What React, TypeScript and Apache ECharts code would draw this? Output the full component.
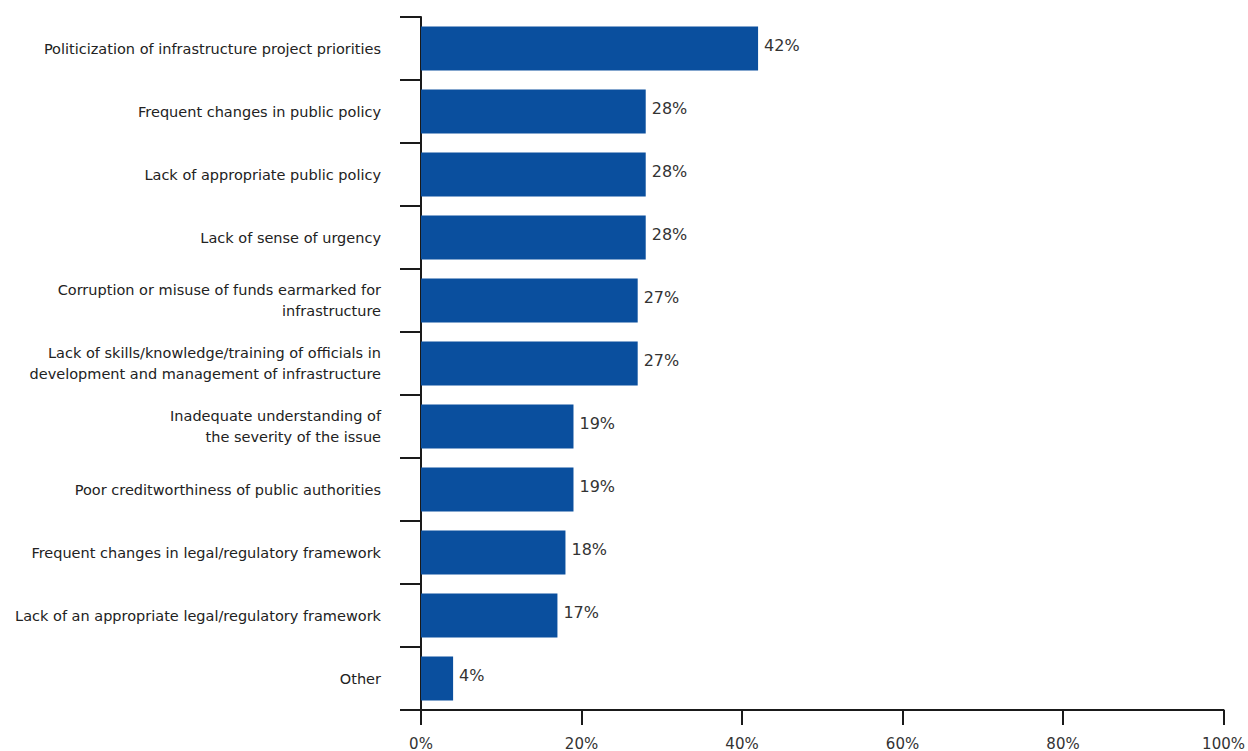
import React, { useEffect, useRef } from "react";
import * as echarts from "echarts";

const categories: string[] = [
  "Politicization of infrastructure project priorities",
  "Frequent changes in public policy",
  "Lack of appropriate public policy",
  "Lack of sense of urgency",
  "Corruption or misuse of funds earmarked for\ninfrastructure",
  "Lack of skills/knowledge/training of officials in\ndevelopment and management of infrastructure",
  "Inadequate understanding of\nthe severity of the issue",
  "Poor creditworthiness of public authorities",
  "Frequent changes in legal/regulatory framework",
  "Lack of an appropriate legal/regulatory framework",
  "Other",
];

const values: number[] = [42, 28, 28, 28, 27, 27, 19, 19, 18, 17, 4];

const xTicks: number[] = [0, 20, 40, 60, 80, 100];

const FONT = "DejaVu Sans, Verdana, sans-serif";

export default function App() {
  const ref = useRef<HTMLDivElement>(null);
  useEffect(() => {
    if (!ref.current) return;
    const chart = echarts.init(ref.current, undefined, { renderer: "svg" });
    chart.setOption({
      animation: false,
      backgroundColor: "#ffffff",
      grid: { left: 421, right: 22, top: 17, bottom: 40, containLabel: false },
      xAxis: {
        type: "value",
        min: xTicks[0],
        max: xTicks[xTicks.length - 1],
        interval: 20,
        axisLine: { show: true, lineStyle: { color: "#1a1a1a", width: 2 } },
        axisTick: { show: true, length: 15, lineStyle: { color: "#1a1a1a", width: 2 } },
        splitLine: { show: false },
        axisLabel: {
          formatter: (v: number) => `${v}%`,
          color: "#333333",
          fontFamily: FONT,
          fontSize: 15,
          margin: 26,
        },
      },
      yAxis: {
        type: "category",
        inverse: true,
        data: categories,
        axisLine: { show: true, lineStyle: { color: "#1a1a1a", width: 2 } },
        axisTick: { show: true, length: 21, alignWithLabel: false, lineStyle: { color: "#1a1a1a", width: 2 } },
        axisLabel: {
          color: "#222222",
          fontFamily: FONT,
          fontSize: 14.5,
          lineHeight: 21,
          margin: 40,
          align: "right",
        },
      },
      series: [
        {
          type: "bar",
          data: values,
          barWidth: "70%",
          itemStyle: { color: "#0a4f9e" },
          label: {
            show: true,
            position: "right",
            distance: 6,
            offset: [0, -3],
            formatter: (p: any) => `${p.value}%`,
            color: "#333333",
            fontFamily: FONT,
            fontSize: 16,
          },
        },
      ],
    });
    return () => chart.dispose();
  }, []);
  return (
    <div
      ref={ref}
      style={{ position: "fixed", left: 0, top: 0, width: 1248, height: 751, background: "#fff" }}
    />
  );
}
